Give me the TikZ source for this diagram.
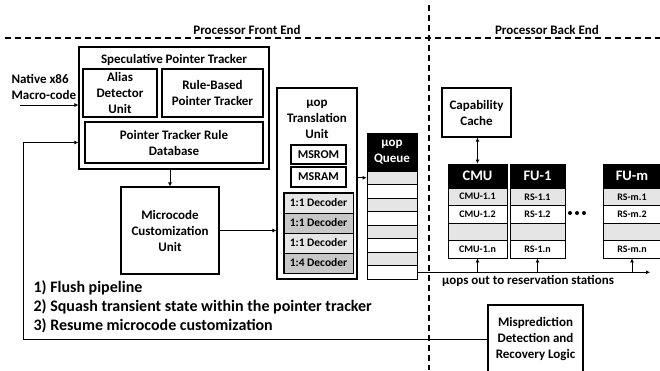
\documentclass[tikz,border=0pt]{standalone}
\usepackage{fontspec}
\setmainfont{Carlito}
\usetikzlibrary{arrows.meta}

\definecolor{rowgray}{gray}{0.9}
\definecolor{declight}{gray}{0.9}
\definecolor{decdark}{gray}{0.78}
\newcommand{\mainsz}{\fontsize{13}{16}\selectfont}
\newcommand{\cellsz}{\fontsize{10}{12}\selectfont}
\newcommand{\listsz}{\fontsize{16}{19}\selectfont}

\begin{document}
\begin{tikzpicture}[x=1pt,y=-1pt,
	every node/.style={font=\bfseries\mainsz},
	box/.style={draw,line width=1.1pt,inner sep=0pt,align=center},
	cell/.style={draw,line width=0.8pt,inner sep=0pt,font=\bfseries\cellsz},
	headcell/.style={draw,fill=black,text=white,line width=0.8pt,inner sep=0pt,align=center},
	arr/.style={-{Latex[length=4pt,width=4pt]},line width=1pt},
	arrboth/.style={{Latex[length=4pt,width=4pt]}-{Latex[length=4pt,width=4pt]},line width=1pt},
	divider/.style={line width=1.2pt,dash pattern=on 6pt off 4pt}]
	\useasboundingbox (0,0) rectangle (660,370);
	\draw[divider] (5,38) -- (660,38);
	\draw[divider] (429,5) -- (429,370);
	\node (fe) at (247,30) {Processor Front End};
	\node (be) at (547,30) {Processor Back End};
	% front end
	\node[box,minimum width=190pt,minimum height=122pt] (spt) at (174,108) {};
	\node (spttitle) at (174,60) {Speculative Pointer Tracker};
	\node[box,minimum width=74pt,minimum height=48pt] (alias) at (120,93) {Alias\\Detector\\Unit};
	\node[box,minimum width=101pt,minimum height=48pt] (rule) at (212.5,93) {Rule-Based\\Pointer Tracker};
	\node[box,minimum width=178pt,minimum height=41pt] (db) at (174,142.5) {Pointer Tracker Rule\\Database};
	\node[anchor=west,align=left] (native) at (8,87) {Native x86\\Macro-code};
	\coordinate (inx) at (20,105);
	\draw[arr] (inx) -- (inx -| spt.west);
	\node[box,minimum width=98pt,minimum height=87pt] (mcu) at (170,230.5) {Microcode\\Customization\\Unit};
	\draw[arr] (spt.south -| mcu.north) -- (mcu.north);
	\node[box,minimum width=80pt,minimum height=191pt] (utu) at (317,183.5) {};
	\node[align=center] (ututitle) at (317,119) {μop\\Translation\\Unit};
	\node[box,font=\bfseries\fontsize{12}{14}\selectfont,minimum width=55pt,minimum height=19pt] (msrom) at (318.5,154.5) {MSROM};
	\node[box,font=\bfseries\fontsize{12}{14}\selectfont,minimum width=55pt,minimum height=20pt] (msram) at (318.5,177) {MSRAM};
	\foreach \i/\r/\c in {1/1:1/declight,2/1:1/decdark,3/1:1/declight,4/1:4/decdark}
		\node[cell,font=\bfseries\fontsize{11.5}{13}\selectfont,fill=\c,minimum width=69pt,minimum height=20pt] (dec\i) at (318.5,183+20*\i) {\r\ Decoder};
	\draw[line width=1.1pt] (dec1.north west) rectangle (dec4.south east);
	\draw[arr] (mcu.east) -- (mcu.east -| utu.west);
	\node[headcell,minimum width=50pt,minimum height=38pt] (qhead) at (392,152) {μop\\Queue};
	\foreach \i/\c in {1/rowgray,2/white,3/rowgray,4/white,5/rowgray,6/white,7/rowgray,8/white}
		\node[cell,fill=\c,minimum width=50pt,minimum height=13.5pt] (q\i) at (392,164.25+13.5*\i) {};
	\draw[arr] (q1.west -| utu.east) -- (q1.west);
	\node[anchor=west,align=left,font=\bfseries\listsz] (steps) at (30,307) {1) Flush pipeline\\2) Squash transient state within the pointer tracker\\3) Resume microcode customization};
	% back end
	\node[box,minimum width=69pt,minimum height=49pt] (cache) at (476.5,112.5) {Capability\\Cache};
	\foreach \col/\x/\w/\hd/\pre in {cmu/477.5/59/CMU/CMU-1,fu1/537.5/55/FU-1/RS-1,fum/632/58/FU-m/RS-m} {
		\node[headcell,font=\bfseries\fontsize{14.5}{16}\selectfont,minimum width=\w pt,minimum height=24pt] (\col-h) at (\x,176) {\hd};
		\foreach \i/\t/\c in {1/\pre.1/rowgray,2/\pre.2/white,3/{}/rowgray,4/\pre.n/white}
			\node[cell,fill=\c,minimum width=\w pt,minimum height=17.5pt] (\col-\i) at (\x,179.25+17.5*\i) {\t};
	}
	\foreach \x in {570,577,584} \fill (\x,213) circle (2pt);
	\draw[arrboth] (cache.south -| cmu-h.north) -- (cmu-h.north);
	\coordinate (busend) at (650,272);
	\draw[arr] (q8.east) -- (q8.east -| busend);
	\foreach \col in {cmu,fu1,fum} \draw[arr] (\col-4.south |- q8.east) -- (\col-4.south);
	\node (bus) at (528,281) {μops out to reservation stations};
	\node[box,minimum width=95pt,minimum height=69pt] (mis) at (535.5,339.5) {Misprediction\\Detection and\\Recovery Logic};
	\coordinate (fbcorner) at (23,142.5);
	\draw[arr] (mis.west) -| (fbcorner) -- (spt.west |- db.west);
\end{tikzpicture}
\end{document}
